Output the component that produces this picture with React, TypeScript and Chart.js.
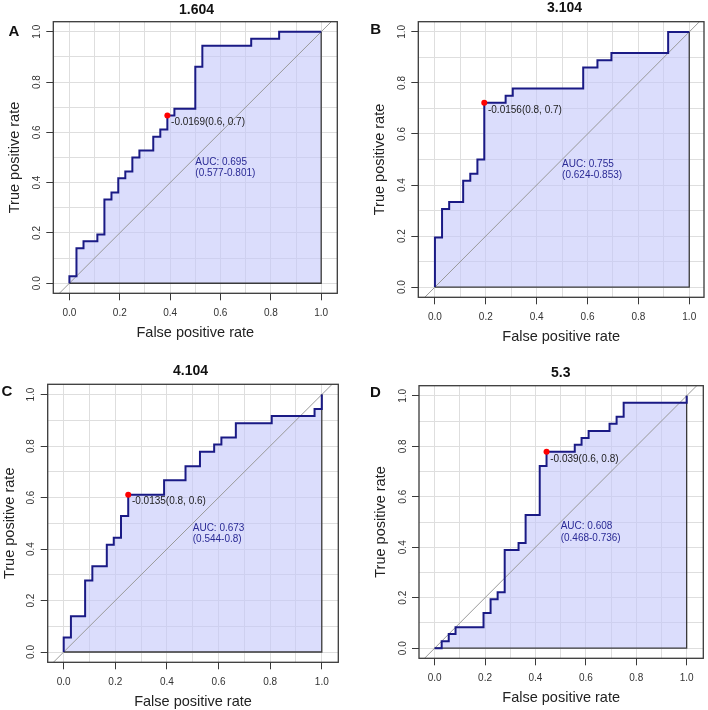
import React, { useEffect, useRef } from 'react';
import { Chart, registerables } from 'chart.js';

Chart.register(...registerables);

// ---------- data ----------
const panelTitles = ['1.604', '3.104', '4.104', '5.3'];
const panelLetters = ['A', 'B', 'C', 'D'];
const xAxisTitle = 'False positive rate';
const yAxisTitle = 'True positive rate';
const tickLabelValues = [0, 0.2, 0.4, 0.6, 0.8, 1.0];

const fprA = [0, 0, 0.028, 0.028, 0.056, 0.056, 0.111, 0.111, 0.139, 0.139, 0.167, 0.167, 0.194, 0.194, 0.222, 0.222, 0.25, 0.25, 0.278, 0.278, 0.333, 0.333, 0.361, 0.361, 0.389, 0.389, 0.417, 0.417, 0.5, 0.5, 0.528, 0.528, 0.722, 0.722, 0.833, 0.833, 1.0];
const tprA = [0, 0.028, 0.028, 0.139, 0.139, 0.167, 0.167, 0.194, 0.194, 0.333, 0.333, 0.361, 0.361, 0.417, 0.417, 0.444, 0.444, 0.5, 0.5, 0.528, 0.528, 0.583, 0.583, 0.611, 0.611, 0.667, 0.667, 0.694, 0.694, 0.861, 0.861, 0.944, 0.944, 0.972, 0.972, 1.0, 1.0];

const fprB = [0, 0, 0.028, 0.028, 0.056, 0.056, 0.111, 0.111, 0.139, 0.139, 0.167, 0.167, 0.194, 0.194, 0.278, 0.278, 0.306, 0.306, 0.583, 0.583, 0.639, 0.639, 0.694, 0.694, 0.917, 0.917, 1.0];
const tprB = [0, 0.194, 0.194, 0.306, 0.306, 0.333, 0.333, 0.417, 0.417, 0.444, 0.444, 0.5, 0.5, 0.722, 0.722, 0.75, 0.75, 0.778, 0.778, 0.861, 0.861, 0.889, 0.889, 0.917, 0.917, 1.0, 1.0];

const fprC = [0, 0, 0.028, 0.028, 0.083, 0.083, 0.111, 0.111, 0.167, 0.167, 0.194, 0.194, 0.222, 0.222, 0.25, 0.25, 0.389, 0.389, 0.472, 0.472, 0.528, 0.528, 0.583, 0.583, 0.611, 0.611, 0.667, 0.667, 0.806, 0.806, 0.972, 0.972, 1.0, 1.0];
const tprC = [0, 0.056, 0.056, 0.139, 0.139, 0.278, 0.278, 0.333, 0.333, 0.417, 0.417, 0.444, 0.444, 0.528, 0.528, 0.611, 0.611, 0.667, 0.667, 0.722, 0.722, 0.778, 0.778, 0.806, 0.806, 0.833, 0.833, 0.889, 0.889, 0.917, 0.917, 0.944, 0.944, 1.0];

const fprD = [0, 0.028, 0.028, 0.056, 0.056, 0.083, 0.083, 0.194, 0.194, 0.222, 0.222, 0.25, 0.25, 0.278, 0.278, 0.333, 0.333, 0.361, 0.361, 0.417, 0.417, 0.444, 0.444, 0.556, 0.556, 0.583, 0.583, 0.611, 0.611, 0.694, 0.694, 0.722, 0.722, 0.75, 0.75, 1.0, 1.0];
const tprD = [0, 0, 0.028, 0.028, 0.056, 0.056, 0.083, 0.083, 0.139, 0.139, 0.194, 0.194, 0.222, 0.222, 0.389, 0.389, 0.417, 0.417, 0.528, 0.528, 0.722, 0.722, 0.778, 0.778, 0.806, 0.806, 0.833, 0.833, 0.861, 0.861, 0.889, 0.889, 0.917, 0.917, 0.972, 0.972, 1.0];

const fprSeries = [fprA, fprB, fprC, fprD];
const tprSeries = [tprA, tprB, tprC, tprD];

const cutoffFpr = [0.389, 0.194, 0.25, 0.444];
const cutoffTpr = [0.667, 0.722, 0.611, 0.778];
const cutoffLabels = ['-0.0169(0.6, 0.7)', '-0.0156(0.8, 0.7)', '-0.0135(0.8, 0.6)', '-0.039(0.6, 0.8)'];
const aucLabels = ['AUC: 0.695', 'AUC: 0.755', 'AUC: 0.673', 'AUC: 0.608'];
const aucCiLabels = ['(0.577-0.801)', '(0.624-0.853)', '(0.544-0.8)', '(0.468-0.736)'];
const aucTextX = 0.5;
const aucTextY = 0.5;

// ---------- layout (canvas-relative pixels) ----------
const CW = 354;
const CH = 355;
const panelLayouts = [
  { left: 0, top: 0, box: { l: 53.3, t: 21.7, r: 337.3, b: 293.3 }, xMin: -0.064, xMax: 1.064, title: { x: 196.5, y: 10 }, letter: { x: 13.8, y: 31.7 } },
  { left: 354, top: 0, box: { l: 64.3, t: 21.7, r: 351, b: 297.3 }, xMin: -0.0654, xMax: 1.058, title: { x: 210.5, y: 8 }, letter: { x: 21.7, y: 30 } },
  { left: 0, top: 355, box: { l: 47.7, t: 29.3, r: 338.3, b: 307.3 }, xMin: -0.062, xMax: 1.064, title: { x: 190.5, y: 16 }, letter: { x: 7, y: 37 } },
  { left: 354, top: 355, box: { l: 65, t: 30.7, r: 349.3, b: 303.3 }, xMin: -0.062, xMax: 1.066, title: { x: 206.7, y: 17.8 }, letter: { x: 21.3, y: 37.7 } },
];

const FONT = '"Liberation Sans", Arial, Helvetica, sans-serif';
const NAVY = '#1a1a85';
const AUC_COLOR = '#2a2a95';
const FILL = 'rgba(195,198,250,0.6)';
const GRID = '#dedede';
const DARK = '#3a3a3a';

function isMajor(v: number) {
  return Math.abs(Math.round(v * 10)) % 2 === 0;
}

function Panel({ idx }: { idx: number }) {
  const ref = useRef<HTMLCanvasElement | null>(null);
  const lay = panelLayouts[idx];

  useEffect(() => {
    if (!ref.current) return;
    const fpr = fprSeries[idx];
    const tpr = tprSeries[idx];
    const curve = fpr.map((x, i) => ({ x, y: tpr[i] }));
    const box = lay.box;

    const overlay = {
      id: 'overlay' + idx,
      afterDraw(chart: any) {
        const ctx = chart.ctx as CanvasRenderingContext2D;
        const xs = chart.scales.x;
        const ys = chart.scales.y;
        const ca = chart.chartArea;
        ctx.save();
        // box
        ctx.strokeStyle = DARK;
        ctx.lineWidth = 1.3;
        ctx.strokeRect(ca.left, ca.top, ca.right - ca.left, ca.bottom - ca.top);

        // tick labels
        ctx.fillStyle = '#333';
        ctx.font = `10px ${FONT}`;
        ctx.textAlign = 'center';
        ctx.textBaseline = 'middle';
        tickLabelValues.forEach((v) => {
          ctx.fillText(v.toFixed(1), xs.getPixelForValue(v), ca.bottom + 19.5);
        });
        tickLabelValues.forEach((v) => {
          ctx.save();
          ctx.translate(ca.left - 16, ys.getPixelForValue(v));
          ctx.rotate(-Math.PI / 2);
          ctx.fillText(v.toFixed(1), 0, 0);
          ctx.restore();
        });

        // axis titles
        ctx.fillStyle = '#222';
        ctx.font = `14.5px ${FONT}`;
        ctx.fillText(xAxisTitle, (ca.left + ca.right) / 2, ca.bottom + 39.5);
        ctx.save();
        ctx.translate(ca.left - 38, (ca.top + ca.bottom) / 2);
        ctx.rotate(-Math.PI / 2);
        ctx.fillText(yAxisTitle, 0, 0);
        ctx.restore();

        // title and letter
        ctx.fillStyle = '#111';
        ctx.font = `bold 14px ${FONT}`;
        ctx.fillText(panelTitles[idx], lay.title.x, lay.title.y);
        ctx.font = `bold 15px ${FONT}`;
        ctx.fillText(panelLetters[idx], lay.letter.x, lay.letter.y);

        // cutoff label
        const px = xs.getPixelForValue(cutoffFpr[idx]);
        const py = ys.getPixelForValue(cutoffTpr[idx]);
        ctx.font = `10px ${FONT}`;
        ctx.textAlign = 'left';
        ctx.fillStyle = '#222';
        ctx.fillText(cutoffLabels[idx], px + 3.7, py + 7);

        // AUC
        const ax = xs.getPixelForValue(aucTextX);
        const ay = ys.getPixelForValue(aucTextY);
        ctx.fillStyle = AUC_COLOR;
        ctx.fillText(aucLabels[idx], ax, ay + 4.5);
        ctx.fillText(aucCiLabels[idx], ax, ay + 16);
        ctx.restore();
      },
    };

    const gridCfg = {
      color: GRID,
      lineWidth: 1,
      drawTicks: true,
      tickLength: 7,
      tickWidth: 1,
      tickColor: (c: any) => (c.tick && isMajor(c.tick.value) ? DARK : 'rgba(0,0,0,0)'),
    };

    const chart = new Chart(ref.current, {
      type: 'line',
      data: {
        datasets: [
          {
            data: [{ x: cutoffFpr[idx], y: cutoffTpr[idx] }],
            showLine: false,
            pointRadius: 3,
            pointBackgroundColor: '#ff0000',
            pointBorderColor: '#ff0000',
            pointBorderWidth: 0,
          },
          {
            data: curve,
            borderColor: NAVY,
            borderWidth: 2,
            pointRadius: 0,
            tension: 0,
            fill: 'origin',
            backgroundColor: FILL,
          },
          {
            data: [{ x: 1, y: 1 }, { x: 1, y: 0 }, { x: 0, y: 0 }],
            borderColor: DARK,
            borderWidth: 1.3,
            pointRadius: 0,
            fill: false,
          },
          {
            data: [{ x: -0.3, y: -0.3 }, { x: 1.3, y: 1.3 }],
            borderColor: '#999999',
            borderWidth: 1,
            pointRadius: 0,
            fill: false,
          },
        ],
      },
      options: {
        responsive: false,
        maintainAspectRatio: false,
        animation: false,
        events: [],
        layout: { padding: { top: box.t, right: CW - box.r, bottom: 0, left: 0 } },
        plugins: {
          legend: { display: false },
          tooltip: { enabled: false },
          title: { display: false },
          filler: { drawTime: 'beforeDatasetsDraw' },
        },
        scales: {
          x: {
            type: 'linear',
            min: lay.xMin,
            max: lay.xMax,
            border: { display: false },
            grid: gridCfg as any,
            ticks: { display: false, stepSize: 0.1, includeBounds: false },
            afterFit: (s: any) => { s.height = CH - box.b; },
          },
          y: {
            type: 'linear',
            min: -0.04,
            max: 1.04,
            border: { display: false },
            grid: gridCfg as any,
            ticks: { display: false, stepSize: 0.1, includeBounds: false },
            afterFit: (s: any) => { s.width = box.l; },
          },
        },
      } as any,
      plugins: [overlay],
    });
    return () => chart.destroy();
  }, [idx]);

  return (
    <canvas
      ref={ref}
      width={CW}
      height={CH}
      style={{ position: 'absolute', left: lay.left, top: lay.top, width: CW, height: CH }}
    />
  );
}

export default function App() {
  return (
    <div style={{ position: 'absolute', left: 0, top: 0, width: 708, height: 710, background: '#fff' }}>
      {[0, 1, 2, 3].map((i) => (
        <Panel key={i} idx={i} />
      ))}
    </div>
  );
}
